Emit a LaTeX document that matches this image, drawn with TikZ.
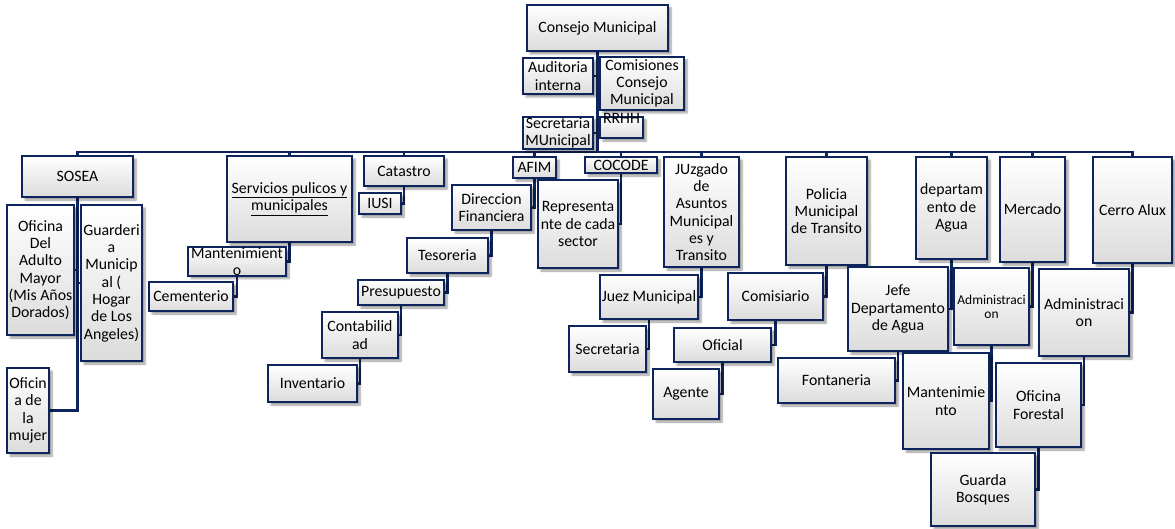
\documentclass[tikz,border=0pt]{standalone}
\usepackage{fontspec}
\setmainfont{Carlito}
\usetikzlibrary{shadows.blur}
\definecolor{navy}{RGB}{14,36,92}
\definecolor{boxbot}{RGB}{220,220,220}
\pgfdeclarelayer{background}
\pgfsetlayers{background,main}
\tikzset{
  obox/.style={draw=navy, line width=2.2pt, rectangle, inner sep=0pt, outer sep=0pt,
    top color=white, bottom color=boxbot, align=center, text=black,
    font=\fontsize{15.8}{17.3}\selectfont,
    blur shadow={shadow xshift=3pt, shadow yshift=-3pt, shadow blur steps=6, shadow opacity=40}},
  smalltext/.style={font=\fontsize{13.5}{14.2}\selectfont},
  conn/.style={draw=navy, line width=2.2pt}
}
\newcommand\obx[6]{\node[obox, minimum width={(#4-#2)*1pt}, minimum height={(#5-#3)*1pt}] (#1) at ({(#2+#4)/2},{(#3+#5)/2}) {#6};}
\newcommand\obxs[6]{\node[obox, smalltext, minimum width={(#4-#2)*1pt}, minimum height={(#5-#3)*1pt}] (#1) at ({(#2+#4)/2},{(#3+#5)/2}) {#6};}
\begin{document}
\begin{tikzpicture}[x=1pt,y=-1pt]
\useasboundingbox (0,0) rectangle (1175,529);
% top
\obx{consejo}{527}{5}{668}{51}{Consejo Municipal}
\obx{aud}{523}{58}{593}{94}{Auditoria\\interna}
\obx{comis}{600}{57}{684}{110}{Comisiones\\Consejo\\Municipal}
\obx{secm}{523}{117}{593}{149}{Secretaria\\MUnicipal}
\node[obox, minimum width=43pt, minimum height=21pt,
  label={[anchor=center, yshift=-1.5pt, inner sep=0pt, font=\fontsize{15.8}{17.3}\selectfont]north:RRHH}] (rrhh) at (621.5,127.5) {};
\coordinate (bus) at (597.5,152);
% level 1
\obx{sosea}{22}{156}{133}{197}{SOSEA}
\obx{serv}{227}{156}{352}{242}{\underline{Servicios pulicos y}\\\underline{municipales}}
\obx{cat}{364}{156}{444}{186}{Catastro}
\obx{afim}{513}{157}{556}{178}{AFIM}
\obx{cocode}{585}{157}{657}{173}{COCODE}
\obx{juz}{664}{157}{739}{267}{JUzgado\\de\\Asuntos\\Municipal\\es y\\Transito}
\obx{pol}{786}{157}{867}{265}{Policia\\Municipal\\de Transito}
\obx{agua}{916}{157}{987}{259}{departam\\ento de\\Agua}
\obx{merc}{1000}{157}{1065}{262}{Mercado}
\obx{cerro}{1093}{157}{1172}{263}{Cerro Alux}
% SOSEA children
\obx{adulto}{7}{205}{74}{335}{Oficina\\Del\\Adulto\\Mayor\\(Mis Años\\Dorados)}
\obx{guard}{81}{205}{142}{361}{Guarderi\\a\\Municip\\al (\\Hogar\\de Los\\Angeles)}
\obx{mujer}{7}{368}{49}{453}{Oficin\\a de\\la\\mujer}
% Servicios
\obx{mant}{188}{249}{286}{274}{Mantenimient\\o}
\obx{cem}{149}{282}{233}{311}{Cementerio}
% Catastro
\obx{iusi}{359}{193}{401}{214}{IUSI}
% AFIM chain
\obx{dirf}{452}{185}{531}{230}{Direccion\\Financiera}
\obx{tes}{407}{238}{488}{273}{Tesoreria}
\obx{pres}{358}{280}{444}{305}{Presupuesto}
\obx{cont}{322}{312}{398}{358}{Contabilid\\ad}
\obx{inv}{268}{365}{357}{402}{Inventario}
% COCODE
\obx{repr}{538}{180}{618}{268}{Representa\\nte de cada\\sector}
% Juzgado
\obx{juez}{600}{275}{698}{319}{Juez Municipal}
\obx{secr}{569}{326}{646}{372}{Secretaria}
% Policia
\obx{comi}{728}{273}{823}{320}{Comisiario}
\obx{ofi}{674}{328}{771}{362}{Oficial}
\obx{age}{653}{369}{719}{419}{Agente}
% Agua
\obx{jefe}{848}{267}{948}{351}{Jefe\\Departamento\\de Agua}
\obx{font}{778}{358}{895}{403}{Fontaneria}
% Mercado
\obxs{adm1}{954}{268}{1029}{345}{Administraci\\on}
\obx{mant2}{903}{353}{989}{449}{Mantenimie\\nto}
% Cerro
\obx{adm2}{1039}{269}{1129}{356}{Administraci\\on}
\obx{ofor}{996}{363}{1081}{447}{Oficina\\Forestal}
\obx{guarda}{931}{453}{1035}{526}{Guarda\\Bosques}
\begin{pgfonlayer}{background}
\draw[conn] (consejo.south) -- (bus);
\draw[conn] (aud.east) -- (aud.east -| bus);
\draw[conn] (comis.west) -- (comis.west -| bus);
\draw[conn] (secm.east) -- (secm.east -| bus);
\draw[conn] (rrhh.west) -- (rrhh.west -| bus);
\foreach \n in {sosea,serv,cat,afim,cocode,juz,pol,agua,merc,cerro}
  \draw[conn] (bus) -| (\n.north);
% SOSEA
\draw[conn] (sosea.south) |- (mujer.east);
\draw[conn] (adulto.east) -- (adulto.east -| sosea.south);
\draw[conn] (guard.west) -- (guard.west -| sosea.south);
% chains
\draw[conn] (serv.south) |- (mant.east);
\draw[conn] (mant.south) |- (cem.east);
\draw[conn] (cat.south) |- (iusi.east);
\draw[conn] (afim.south) |- (dirf.east);
\draw[conn] (dirf.south) |- (tes.east);
\draw[conn] (tes.south) |- (pres.east);
\draw[conn] (pres.south) |- (cont.east);
\draw[conn] (cont.south) |- (inv.east);
\draw[conn] (cocode.south) |- (repr.east);
\draw[conn] (juz.south) |- (juez.east);
\draw[conn] (juez.south) |- (secr.east);
\draw[conn] (pol.south) |- (comi.east);
\draw[conn] (comi.south) |- (ofi.east);
\draw[conn] (ofi.south) |- (age.east);
\draw[conn] (agua.south) |- (jefe.east);
\draw[conn] (jefe.south) |- (font.east);
\draw[conn] (merc.south) |- (adm1.east);
\draw[conn] (adm1.south) |- (mant2.east);
\draw[conn] (cerro.south) |- (adm2.east);
\draw[conn] (adm2.south) |- (ofor.east);
\draw[conn] (ofor.south) |- (guarda.east);
\end{pgfonlayer}
\end{tikzpicture}
\end{document}
